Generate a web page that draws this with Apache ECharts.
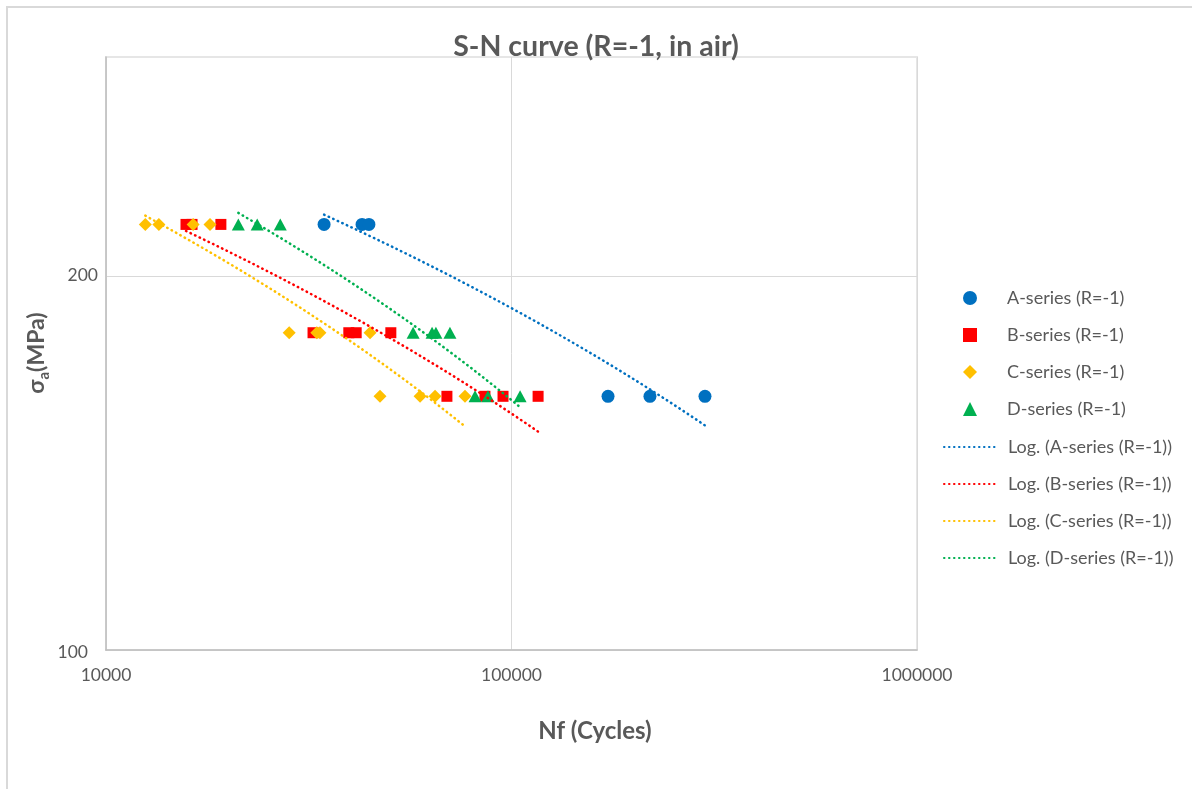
<!DOCTYPE html>
<html>
<head>
<meta charset="utf-8">
<script src="https://cdn.jsdelivr.net/npm/echarts@6/dist/echarts.min.js"></script>
<style>
  html, body { margin: 0; padding: 0; background: #ffffff; }
  #chart { width: 1192px; height: 789px; }
</style>
</head>
<body>
<div id="chart"></div>
<script>
// Fatigue test results: cycles to failure (Nf) and stress amplitude (MPa)
const seriesNames = ['A-series (R=-1)', 'B-series (R=-1)', 'C-series (R=-1)', 'D-series (R=-1)'];
const seriesColors = ['#0070C0', '#FF0000', '#FFC000', '#00B050'];
const seriesSymbols = ['circle', 'rect', 'diamond', 'triangle'];
const seriesSymbolSizes = [13, 11, 13, [13, 12]];

const aCycles = [34500, 42800, 44500, 173000, 219500, 300000];
const aStress = [220, 220, 220, 160, 160, 160];

const bCycles = [15750, 16300, 19200, 32400, 39700, 41400, 50400, 69300, 86000, 95300, 116300];
const bStress = [220, 220, 220, 180, 180, 180, 180, 160, 160, 160, 160];

const cCycles = [12500, 13500, 16400, 18050, 28300, 33100, 33700, 44800, 47400, 59500, 64800, 76800];
const cStress = [220, 220, 220, 220, 180, 180, 180, 180, 160, 160, 160, 160];

const dCycles = [21200, 23600, 26900, 57200, 63700, 65100, 70500, 81300, 87500, 105000];
const dStress = [220, 220, 220, 180, 180, 180, 180, 160, 160, 160];

const yTickLabels = [100, 200];

const allCycles = [aCycles, bCycles, cCycles, dCycles];
const allStress = [aStress, bStress, cStress, dStress];

const FONT = 'Lato, "Noto Sans", sans-serif';
const TEXT_COLOR = '#595959';
const trendName = n => 'Log. (' + n + ')';

// Logarithmic trendline y = c*ln(x) + b (least squares), sampled over the data range
function logTrend(xs, ys) {
  const n = xs.length;
  const lx = xs.map(Math.log);
  const mx = lx.reduce((s, v) => s + v, 0) / n;
  const my = ys.reduce((s, v) => s + v, 0) / n;
  let sxy = 0, sxx = 0;
  for (let i = 0; i < n; i++) {
    sxy += (lx[i] - mx) * (ys[i] - my);
    sxx += (lx[i] - mx) * (lx[i] - mx);
  }
  const c = sxy / sxx;
  const b = my - c * mx;
  const lo = Math.min(...xs), hi = Math.max(...xs);
  const steps = 80;
  const pts = [];
  for (let i = 0; i <= steps; i++) {
    const x = lo * Math.pow(hi / lo, i / steps);
    pts.push([x, c * Math.log(x) + b]);
  }
  return pts;
}

const scatterSeries = seriesNames.map((name, i) => ({
  name: name,
  type: 'scatter',
  symbol: seriesSymbols[i],
  symbolSize: seriesSymbolSizes[i],
  symbolKeepAspect: true,
  itemStyle: { color: seriesColors[i], opacity: 1 },
  data: allCycles[i].map((x, k) => [x, allStress[i][k]]),
  z: 2,
  silent: true
}));

const trendSeries = seriesNames.map((name, i) => ({
  name: trendName(name),
  type: 'line',
  symbol: 'none',
  showSymbol: false,
  smooth: false,
  color: seriesColors[i],
  itemStyle: { color: seriesColors[i] },
  lineStyle: { color: seriesColors[i], width: 2.5, type: [0.5, 4.5], cap: 'round' },
  data: logTrend(allCycles[i], allStress[i]),
  z: 3,
  silent: true
}));

const legendText = { fontFamily: FONT, fontSize: 18, color: TEXT_COLOR, lineHeight: 20 };

const chart = echarts.init(document.getElementById('chart'), null, { renderer: 'canvas' });

chart.setOption({
  animation: false,
  backgroundColor: '#ffffff',
  title: {
    text: 'S-N curve (R=-1, in air)',
    left: 'center',
    top: 27,
    textStyle: { fontFamily: FONT, fontSize: 28.5, fontWeight: 'bold', color: TEXT_COLOR }
  },
  grid: {
    left: 106, right: 275, top: 57, bottom: 139,
    show: true, borderColor: '#e6e6e6', borderWidth: 2, backgroundColor: 'transparent'
  },
  legend: [
    {
      // markers
      orient: 'vertical',
      left: 963,
      top: 288,
      padding: 0,
      itemWidth: 14,
      itemHeight: 14,
      itemGap: 17,
      symbolKeepAspect: true,
      selectedMode: false,
      textStyle: Object.assign({ padding: [0, 0, 0, 25] }, legendText),
      data: seriesNames
    },
    {
      // trendlines
      orient: 'vertical',
      left: 943,
      top: 289 + 4 * 37,
      padding: 0,
      itemWidth: 54,
      itemHeight: 14,
      itemGap: 17,
      selectedMode: false,
      textStyle: Object.assign({ padding: [0, 0, 0, 5] }, legendText),
      data: seriesNames.map(n => ({ name: trendName(n), itemStyle: { opacity: 0 } }))
    }
  ],
  xAxis: {
    type: 'log',
    logBase: 10,
    min: 10000,
    max: 1000000,
    axisLine: { show: true, lineStyle: { color: '#bfbfbf', width: 1.5 } },
    axisTick: { show: false },
    axisLabel: {
      margin: 16,
      fontFamily: FONT, fontSize: 17.5, color: TEXT_COLOR,
      formatter: v => String(Math.round(v))
    },
    splitLine: { show: true, lineStyle: { color: '#d9d9d9', width: 1 } }
  },
  yAxis: {
    type: 'log',
    logBase: 10,
    min: 100,
    max: 300,
    axisLine: { show: true, lineStyle: { color: '#bfbfbf', width: 1.5 } },
    axisTick: { show: false, customValues: yTickLabels },
    axisLabel: {
      margin: 8,
      customValues: yTickLabels,
      fontFamily: FONT, fontSize: 17.5, color: TEXT_COLOR,
      formatter: v => {
        const r = Math.round(v);
        return r === yTickLabels[0] ? '{low|' + r + '}' : String(r);
      },
      rich: {
        low: { fontFamily: FONT, fontSize: 17.5, color: TEXT_COLOR, padding: [4, 10, 0, 0] }
      }
    },
    splitLine: { show: true, lineStyle: { color: '#d9d9d9', width: 1 } }
  },
  graphic: [
    {
      type: 'rect',
      shape: { x: 7, y: 7, width: 1200, height: 800 },
      style: { fill: 'none', stroke: '#d9d9d9', lineWidth: 2 },
      silent: true, z: -10
    },
    {
      type: 'text',
      x: 595, y: 731,
      style: {
        text: 'Nf (Cycles)',
        fontFamily: FONT, fontSize: 24, fontWeight: 'bold', fill: TEXT_COLOR,
        align: 'center', verticalAlign: 'middle'
      },
      silent: true
    },
    {
      type: 'text',
      x: 37, y: 353,
      rotation: Math.PI / 2,
      style: {
        text: '{m|σ}{s|a}{m|(MPa)}',
        align: 'center', verticalAlign: 'middle',
        rich: {
          m: { fontFamily: FONT, fontSize: 23, fontWeight: 'bold', fill: TEXT_COLOR, lineHeight: 30, verticalAlign: 'middle' },
          s: { fontFamily: FONT, fontSize: 15, fontWeight: 'bold', fill: TEXT_COLOR, lineHeight: 30, verticalAlign: 'bottom' }
        }
      },
      silent: true
    }
  ],
  series: scatterSeries.concat(trendSeries)
});
</script>
</body>
</html>
